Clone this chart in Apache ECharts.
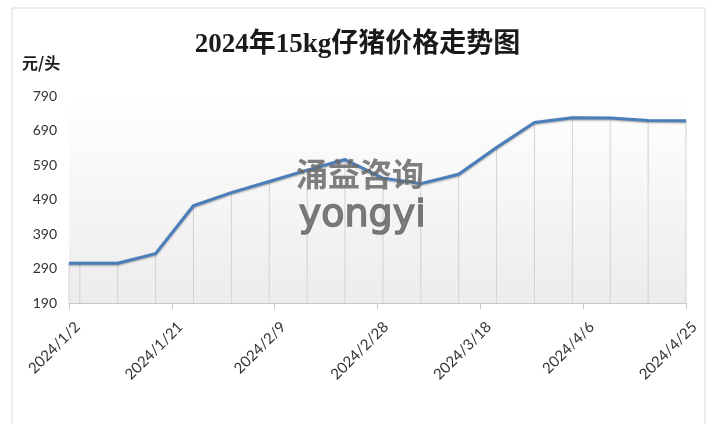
<!DOCTYPE html>
<html>
<head>
<meta charset="utf-8">
<title>2024年15kg仔猪价格走势图</title>
<script src="https://cdn.jsdelivr.net/npm/echarts@6/dist/echarts.min.js"></script>
<style>
  html, body { margin: 0; padding: 0; background: #fff; }
  #chart { width: 715px; height: 424px; }
</style>
</head>
<body>
<div id="chart"></div>
<script>
// 数据：每周四仔猪价格（元/头）
var dates = ['2024/1/2', '2024/1/4', '2024/1/11', '2024/1/18', '2024/1/25', '2024/2/1',
             '2024/2/8', '2024/2/15', '2024/2/22', '2024/2/29', '2024/3/7', '2024/3/14',
             '2024/3/21', '2024/3/28', '2024/4/4', '2024/4/11', '2024/4/18', '2024/4/25'];
var prices = [305, 305, 305, 333, 472, 510,
              542, 575, 606, 552, 536, 563,
              641, 713, 727, 726, 719, 718];
// 横轴：起止日期和刻度间隔（天）
var axisStart = '2024/1/2';
var axisEnd = '2024/4/25';
var axisStepDays = 19;
// 纵轴刻度
var yMin = 190, yMax = 790, yStep = 100;

var DAY = 86400000;
function toUTC(s) {
    var p = s.split('/');
    return Date.UTC(+p[0], +p[1] - 1, +p[2]);
}
var base = toUTC(axisStart);
function dayNum(s) {
    return Math.round((toUTC(s) - base) / DAY);
}
function dayLabel(v) {
    var d = new Date(base + v * DAY);
    return d.getUTCFullYear() + '/' + (d.getUTCMonth() + 1) + '/' + d.getUTCDate();
}

var points = dates.map(function (d, i) { return [dayNum(d), prices[i]]; });

var echart = echarts.init(document.getElementById('chart'));
var option = {
    backgroundColor: '#fff',
    animation: false,
    title: {
        text: '2024年15kg仔猪价格走势图',
        left: 'center',
        top: 27,
        textStyle: {
            fontFamily: "'Liberation Serif', 'Noto Sans CJK SC'",
            fontSize: 27,
            fontWeight: 'bold',
            color: '#1a1a1a'
        }
    },
    graphic: [
        {   // 外框
            type: 'rect',
            z: -10,
            shape: { x: 12, y: 8, width: 693, height: 440 },
            style: { fill: '#fff', stroke: '#d9d9d9', lineWidth: 1 }
        },
        {
            type: 'text',
            left: 22,
            top: 55,
            style: {
                text: '元/头',
                font: "bold 16px 'Noto Sans CJK SC'",
                fill: '#1a1a1a'
            }
        },
        {   // 水印
            type: 'text',
            z: 100,
            left: 296,
            top: 158,
            style: {
                text: '涌益咨询',
                font: "bold 32px 'Noto Sans CJK SC'",
                fill: 'rgba(105,105,105,0.85)'
            }
        },
        {
            type: 'text',
            z: 100,
            left: 298,
            top: 196,
            style: {
                text: 'yongyi',
                font: "38px 'DejaVu Sans'",
                fill: 'rgba(105,105,105,0.85)',
                stroke: 'rgba(105,105,105,0.85)',
                lineWidth: 1.5
            }
        }
    ],
    grid: {
        left: 69,
        right: 29,
        top: 96,
        bottom: 121,
        show: true,
        borderWidth: 0,
        backgroundColor: new echarts.graphic.LinearGradient(0, 0, 0, 1, [
            { offset: 0, color: '#ffffff' },
            { offset: 1, color: '#ececec' }
        ])
    },
    xAxis: {
        type: 'value',
        min: dayNum(axisStart),
        max: dayNum(axisEnd),
        interval: axisStepDays,
        splitLine: { show: false },
        axisLine: { show: true, lineStyle: { color: '#c8c8c8', width: 1 } },
        axisTick: { show: true, length: 6, lineStyle: { color: '#c8c8c8' } },
        axisLabel: {
            rotate: 45,
            margin: 30,
            padding: [0, -12, 0, 0],
            formatter: dayLabel,
            fontFamily: 'Lato',
            fontSize: 15,
            color: '#333'
        }
    },
    yAxis: {
        type: 'value',
        min: yMin,
        max: yMax,
        interval: yStep,
        splitLine: { show: false },
        axisLine: { show: false },
        axisTick: { show: false },
        axisLabel: {
            margin: 12,
            fontFamily: 'Lato',
            fontSize: 14,
            color: '#333'
        }
    },
    series: [
        {   // 垂直线
            type: 'bar',
            data: points,
            barWidth: 1,
            itemStyle: { color: '#d2d2d2' },
            silent: true
        },
        {
            type: 'line',
            data: points,
            symbol: 'none',
            lineStyle: {
                color: '#4a7ebb',
                width: 3,
                shadowColor: 'rgba(0,0,0,0.35)',
                shadowBlur: 2,
                shadowOffsetY: 1
            }
        }
    ]
};
echart.setOption(option);
</script>
</body>
</html>
